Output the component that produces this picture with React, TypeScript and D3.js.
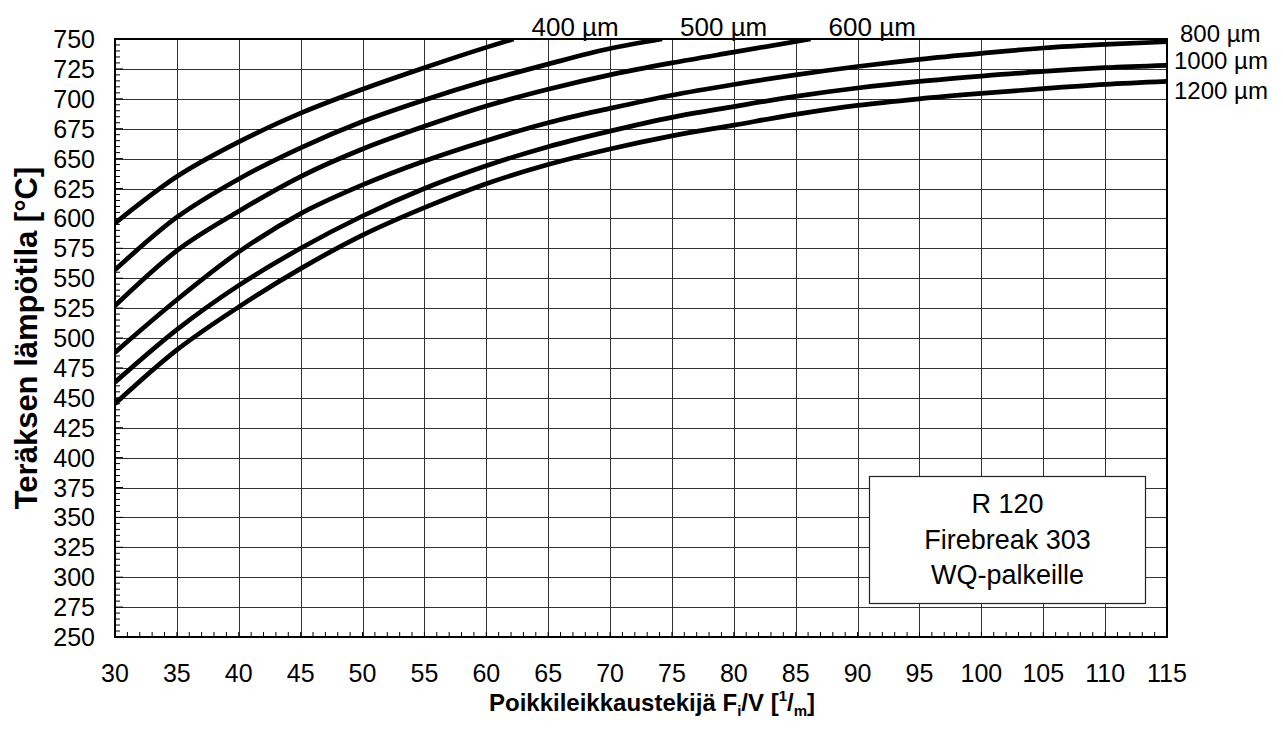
import React from "react";
import * as d3 from "d3";

// section factor Fi/V [1/m] and steel temperature [°C]
const factorAll = [30, 35, 40, 45, 50, 55, 60, 65, 70, 75, 80, 85, 90, 95, 100, 105, 110, 115];

const factor400 = [30, 35, 40, 45, 50, 55, 60, 62.2];
const temp400 = [596, 635, 664, 688, 708, 726, 743, 750];

const factor500 = [30, 35, 40, 45, 50, 55, 60, 65, 70, 74.2];
const temp500 = [557, 601, 633, 659, 681, 699, 715, 729, 742, 750];

const factor600 = [30, 35, 40, 45, 50, 55, 60, 65, 70, 75, 80, 86.2];
const temp600 = [527, 573, 606, 635, 658, 677, 694, 708, 720, 730, 739, 750];

const temp800 = [488, 532, 572, 604, 628, 648, 665, 680, 692, 703, 712, 720, 727, 733, 738, 742.5, 745.5, 747.7];
const temp1000 = [463, 507, 544, 575, 602, 625, 644, 660, 673, 684.5, 693.5, 702, 709, 714.5, 719, 723, 726, 728];
const temp1200 = [445, 490, 526, 558, 586, 609, 629, 645, 658, 669, 678, 687, 694.5, 700, 704.5, 708.5, 712, 714.5];

const thicknessLabels = ["400 µm", "500 µm", "600 µm", "800 µm", "1000 µm", "1200 µm"];

const xTicks = [30, 35, 40, 45, 50, 55, 60, 65, 70, 75, 80, 85, 90, 95, 100, 105, 110, 115];
const yTicks = [250, 275, 300, 325, 350, 375, 400, 425, 450, 475, 500, 525, 550, 575, 600, 625, 650, 675, 700, 725, 750];

const boxLines = ["R 120", "Firebreak 303", "WQ-palkeille"];

const W = 1283;
const H = 731;
const left = 115, right = 1167, top = 39, bottom = 637;
const FONT = "'Liberation Sans', Arial, Helvetica, sans-serif";

export default function App() {
  const x = d3.scaleLinear().domain([30, 115]).range([left, right]);
  const y = d3.scaleLinear().domain([250, 750]).range([bottom, top]);

  const series = [
    { label: thicknessLabels[0], f: factor400, t: temp400 },
    { label: thicknessLabels[1], f: factor500, t: temp500 },
    { label: thicknessLabels[2], f: factor600, t: temp600 },
    { label: thicknessLabels[3], f: factorAll, t: temp800 },
    { label: thicknessLabels[4], f: factorAll, t: temp1000 },
    { label: thicknessLabels[5], f: factorAll, t: temp1200 },
  ];

  const lineGen = d3
    .line<[number, number]>()
    .x((d) => x(d[0]))
    .y((d) => y(d[1]))
    .curve(d3.curveMonotoneX);

  const xMinor = d3.range(30, 115.5, 1);
  const yMinor = d3.range(250, 750.5, 5);

  // baselines of the labels at the right edge (stacked like in the original)
  const rightLabelY = [42, 69, 99];

  return (
    <svg
      width={W}
      height={H}
      style={{ position: "absolute", left: 0, top: 0, background: "#fff" }}
      fontFamily={FONT}
    >
      <defs>
        <clipPath id="plot">
          <rect x={left} y={top} width={right - left} height={bottom - top} />
        </clipPath>
      </defs>

      {/* grid */}
      {xTicks.map((v) => (
        <line key={"gx" + v} x1={Math.round(x(v)) + 0.5} x2={Math.round(x(v)) + 0.5} y1={top} y2={bottom} stroke="#333" strokeWidth={1} />
      ))}
      {yTicks.map((v) => (
        <line key={"gy" + v} x1={left} x2={right} y1={Math.round(y(v)) + 0.5} y2={Math.round(y(v)) + 0.5} stroke="#333" strokeWidth={1} />
      ))}

      {/* minor ticks */}
      {xMinor.map((v) => (
        <line key={"mx" + v} x1={x(v)} x2={x(v)} y1={bottom} y2={bottom - 5} stroke="#000" strokeWidth={1} />
      ))}
      {yMinor.map((v) => (
        <line key={"my" + v} x1={left} x2={left + (v % 25 === 0 ? 8 : 5)} y1={y(v)} y2={y(v)} stroke="#000" strokeWidth={1} />
      ))}

      {/* legend box */}
      <rect x={869.5} y={476.5} width={276} height={127} fill="#fff" stroke="#222" strokeWidth={1.2} />
      {boxLines.map((s, i) => (
        <text key={s} x={1007.5} y={513 + i * 35.5} textAnchor="middle" fontSize={27} fill="#000">
          {s}
        </text>
      ))}

      {/* curves */}
      <g clipPath="url(#plot)">
        {series.map((s) => (
          <path
            key={s.label}
            d={lineGen(s.f.map((f, i) => [f, s.t[i]] as [number, number])) || ""}
            fill="none"
            stroke="#000"
            strokeWidth={4.7}
            strokeLinejoin="round"
          />
        ))}
      </g>

      {/* frame */}
      <rect x={left} y={top} width={right - left} height={bottom - top} fill="none" stroke="#000" strokeWidth={2} />

      {/* curve labels */}
      {series.slice(0, 3).map((s) => (
        <text key={"l" + s.label} x={x(s.f[s.f.length - 1]) + 18} y={36} fontSize={26} fill="#000">
          {s.label}
        </text>
      ))}
      {series.slice(3).map((s, i) => (
        <text key={"r" + s.label} x={right + (i === 0 ? 13 : 7)} y={rightLabelY[i]} fontSize={24} fill="#000">
          {s.label}
        </text>
      ))}

      {/* tick labels */}
      {yTicks.map((v) => (
        <text key={"ty" + v} x={95} y={y(v) + 9} textAnchor="end" fontSize={25} fill="#000">
          {v}
        </text>
      ))}
      {xTicks.map((v) => (
        <text key={"tx" + v} x={x(v)} y={682} textAnchor="middle" fontSize={25} fill="#000">
          {v}
        </text>
      ))}

      {/* axis titles */}
      <text
        transform={`translate(37, ${(top + bottom) / 2}) rotate(-90)`}
        textAnchor="middle"
        fontSize={31}
        fontWeight="bold"
        fill="#000"
      >
        Teräksen lämpötila [°C]
      </text>
      <text x={652} y={711} textAnchor="middle" fontSize={24} fontWeight="bold" fill="#000">
        Poikkileikkaustekijä F
        <tspan fontSize={15} dy={5}>i</tspan>
        <tspan dy={-5}>/V [</tspan>
        <tspan fontSize={15} dy={-10}>1</tspan>
        <tspan dy={10}>/</tspan>
        <tspan fontSize={15} dy={5}>m</tspan>
        <tspan dy={-5}>]</tspan>
      </text>
    </svg>
  );
}
